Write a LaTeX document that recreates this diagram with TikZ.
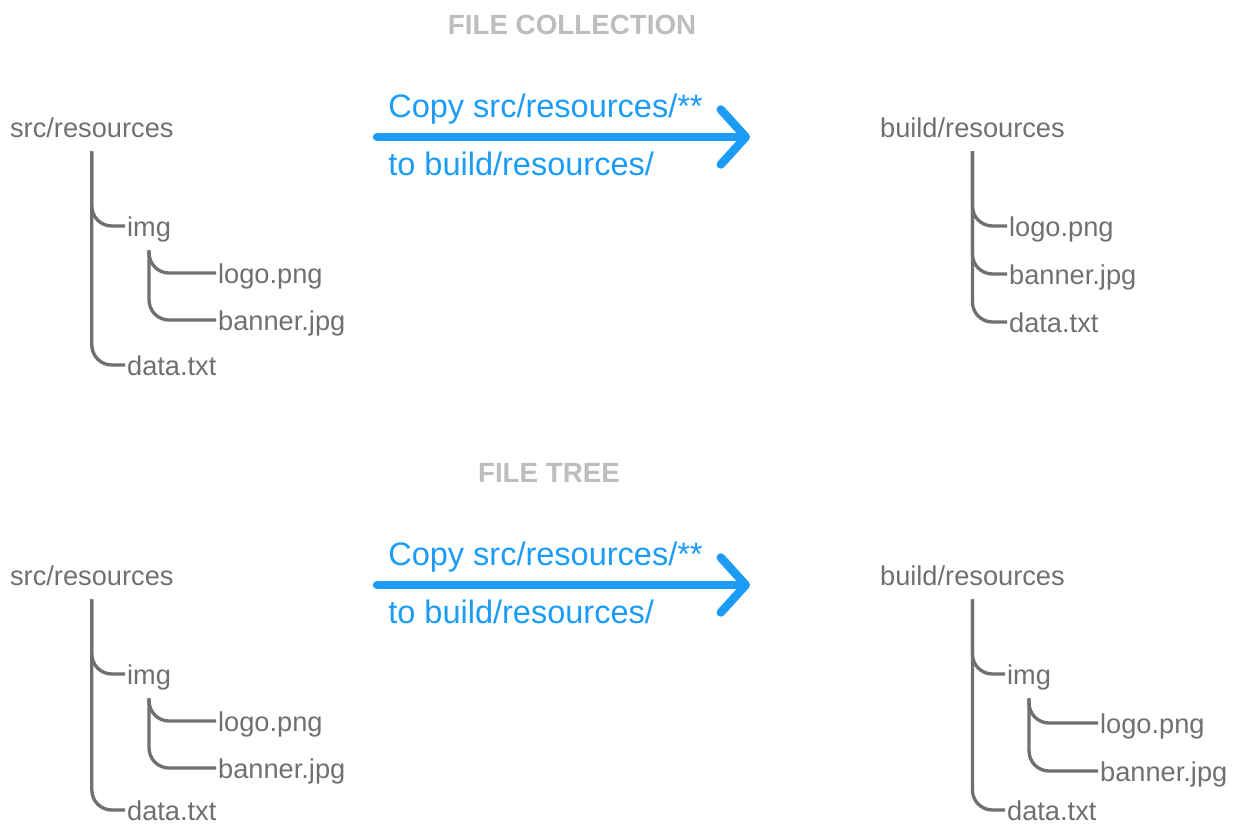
\documentclass[tikz,border=0pt]{standalone}
\usepackage{fontspec}
\setmainfont{Liberation Sans}
\usetikzlibrary{arrows.meta}
\definecolor{sky}{HTML}{1C9CF6}
\definecolor{ash}{HTML}{707070}
\definecolor{mist}{HTML}{BDBDBD}

\begin{document}
\begin{tikzpicture}[x=.02cm,y=-.02cm,font=\fontsize{15.5}{18}\selectfont,
 file/.style={anchor=west,text=ash,inner xsep=1pt,inner ysep=4pt,text height=15.4pt,text depth=4pt},
 branch/.style={draw=ash,line width=1.9pt,rounded corners=.4cm},
 copy/.style={draw=sky,line width=4.8pt,line cap=round,-{Straight Barb[length=.5cm,width=1.1cm,round]}},
 note/.style={anchor=base west,text=sky,font=\fontsize{18.5}{22}\selectfont,inner sep=0pt},
 head/.style={anchor=base,text=mist,font=\bfseries\fontsize{15.8}{18}\selectfont,inner sep=0pt}]
\useasboundingbox (0,0) rectangle (1238,825);
% Both sections share the source tree and the copy arrow.
\foreach \i/\dy/\hx/\dty/\title in {a/0/572/365/FILE COLLECTION,b/448/549/810/FILE TREE} {
 \node[head] (head\i) at (\hx,34+\dy) {\title};
 \node[file] (src\i) at (8,127+\dy) {src/resources};
 \node[file] (img\i) at (125,226+\dy) {img};
 \node[file] (logo\i) at (216,273+\dy) {logo.png};
 \node[file] (banner\i) at (216,320+\dy) {banner.jpg};
 \node[file] (data\i) at (125,\dty) {data.txt};
 \draw[branch] (src\i.south) |- (img\i.west);
 \draw[branch] (src\i.south) |- (data\i.west);
 \draw[branch] (img\i.south) |- (logo\i.west);
 \draw[branch] (img\i.south) |- (banner\i.west);
 \coordinate (from\i) at (377,137+\dy);
 \coordinate (to\i) at (750,137+\dy);
 \draw[copy] (from\i) -- (to\i);
 \node[note] (copy\i) at (388,117+\dy) {Copy src/resources/**};
 \node[note] (dest\i) at (388,175+\dy) {to build/resources/};
}

% Flat copy: the files land directly under build/resources.
\node[file] (builda) at (878,127) {build/resources};
\node[file] (outlogoa) at (1007,226) {logo.png};
\node[file] (outbannera) at (1007,274) {banner.jpg};
\node[file] (outdataa) at (1007,322) {data.txt};
\draw[branch] (builda.south) |- (outlogoa.west);
\draw[branch] (builda.south) |- (outbannera.west);
\draw[branch] (builda.south) |- (outdataa.west);

% Tree copy: the img folder is kept.
\node[file] (buildb) at (878,575) {build/resources};
\node[file] (outimgb) at (1005,674) {img};
\node[file] (outlogob) at (1098,723) {logo.png};
\node[file] (outbannerb) at (1098,771) {banner.jpg};
\node[file] (outdatab) at (1005,810) {data.txt};
\draw[branch] (buildb.south) |- (outimgb.west);
\draw[branch] (buildb.south) |- (outdatab.west);
\draw[branch] (outimgb.south) |- (outlogob.west);
\draw[branch] (outimgb.south) |- (outbannerb.west);
\end{tikzpicture}
\end{document}
